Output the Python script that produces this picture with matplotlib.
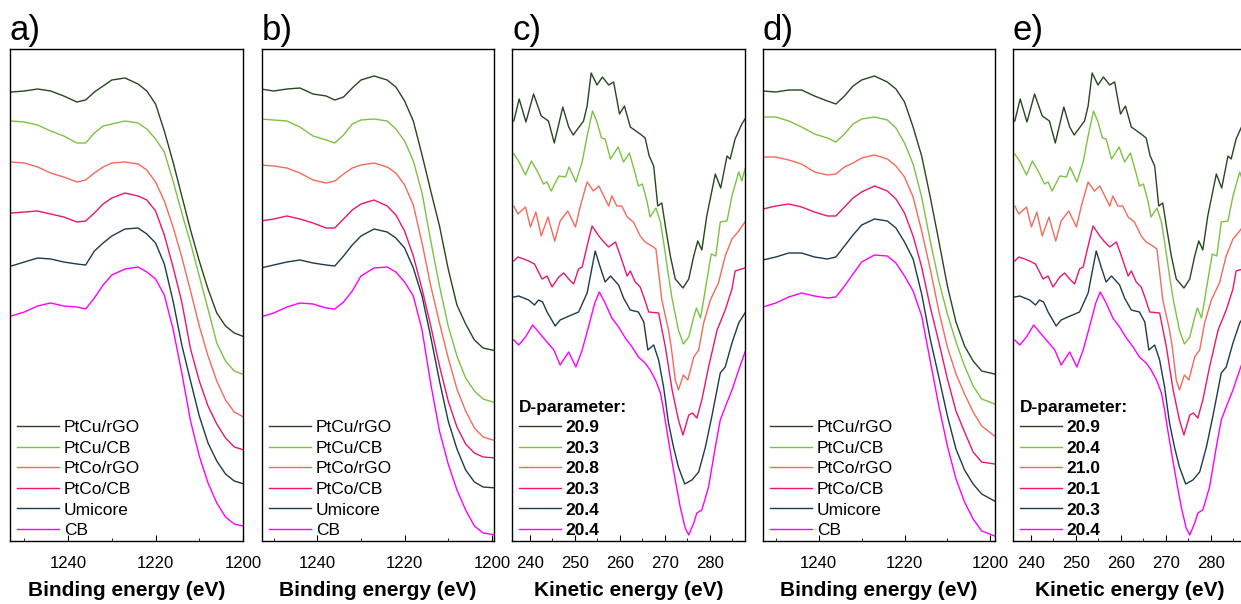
import matplotlib
matplotlib.use("Agg")
import matplotlib.pyplot as plt
from matplotlib.ticker import MultipleLocator

plt.rcParams['font.family'] = ['Liberation Sans', 'DejaVu Sans']

samples = ['PtCu/rGO', 'PtCu/CB', 'PtCo/rGO', 'PtCo/CB', 'Umicore', 'CB']
colors = ['#27471f', '#7cc242', '#f26b5b', '#ea1670', '#1d3b4c', '#ff00ff']
d_param_c = ['20.9', '20.3', '20.8', '20.3', '20.4', '20.4']
d_param_e = ['20.9', '20.4', '21.0', '20.1', '20.3', '20.4']

# binding energy grid (eV), shared by panels a, b, d
be = [1253, 1250, 1247, 1244, 1241, 1238, 1236, 1234, 1232, 1230, 1227, 1224,
      1222, 1220, 1218, 1216, 1214, 1212, 1210, 1208, 1206, 1204, 1202, 1199]

# panel a (intensity, offset, a.u.)
a_ptcu_rgo = [449, 450, 452, 450, 445, 439, 441, 449, 455, 461, 463, 457,
              450, 437, 410, 379, 345, 311, 280, 252, 228, 215, 208, 203]
a_ptcu_cb = [420, 419, 416, 410, 405, 398, 398, 408, 415, 417, 420, 418,
             412, 402, 389, 360, 328, 298, 265, 232, 198, 180, 170, 165]
a_ptco_rgo = [379, 378, 374, 368, 364, 359, 361, 368, 374, 378, 379, 377,
              371, 359, 340, 314, 284, 250, 215, 185, 160, 141, 129, 122]
a_ptco_cb = [328, 329, 330, 327, 324, 319, 320, 328, 337, 343, 348, 345,
             341, 330, 306, 274, 239, 192, 160, 135, 117, 103, 94, 90]
a_umicore = [275, 279, 283, 282, 279, 277, 276, 290, 298, 305, 312, 313,
             307, 298, 277, 240, 196, 160, 125, 98, 80, 67, 60, 56]
a_cb = [225, 229, 235, 238, 235, 234, 232, 243, 256, 266, 272, 274,
        269, 262, 246, 212, 168, 120, 85, 58, 38, 24, 17, 14]

# panel b
b_ptcu_rgo = [452, 450, 452, 453, 447, 445, 441, 444, 453, 461, 465, 461,
              454, 440, 420, 386, 350, 315, 272, 236, 217, 201, 193, 190]
b_ptcu_cb = [422, 421, 420, 414, 405, 401, 398, 406, 417, 421, 422, 420,
             412, 400, 380, 348, 300, 255, 215, 185, 163, 150, 142, 138]
b_ptco_rgo = [376, 375, 373, 368, 361, 358, 360, 367, 373, 376, 378, 374,
              368, 356, 336, 298, 255, 218, 183, 152, 130, 113, 104, 100]
b_ptco_cb = [320, 322, 325, 322, 318, 313, 313, 322, 331, 337, 341, 335,
             326, 310, 285, 252, 215, 175, 140, 114, 97, 88, 84, 83]
b_umicore = [273, 276, 279, 281, 278, 276, 275, 285, 296, 305, 312, 309,
             303, 293, 273, 245, 204, 160, 120, 92, 71, 59, 54, 53]
b_cb = [224, 228, 234, 238, 237, 233, 232, 239, 250, 265, 273, 274,
        269, 259, 245, 211, 157, 110, 77, 51, 31, 15, 8, 6]

# panel d
d_ptcu_rgo = [450, 449, 451, 451, 445, 440, 437, 445, 455, 461, 465, 459,
              452, 439, 414, 385, 344, 300, 255, 219, 195, 180, 170, 167]
d_ptcu_cb = [424, 424, 420, 414, 407, 403, 399, 407, 417, 422, 424, 421,
             413, 398, 377, 344, 300, 260, 227, 199, 175, 155, 142, 137]
d_ptco_rgo = [384, 384, 381, 377, 369, 366, 367, 374, 378, 383, 386, 382,
              375, 364, 344, 310, 272, 230, 194, 167, 147, 129, 115, 105]
d_ptco_cb = [332, 335, 337, 334, 329, 325, 325, 334, 343, 349, 355, 350,
             342, 328, 305, 274, 234, 199, 162, 130, 109, 89, 79, 77]
d_umicore = [281, 284, 288, 288, 284, 282, 284, 295, 306, 316, 322, 320,
             313, 299, 282, 247, 202, 164, 125, 92, 71, 57, 47, 40]
d_cb = [234, 238, 244, 248, 245, 243, 244, 255, 267, 279, 286, 285,
        278, 265, 250, 225, 180, 135, 95, 62, 39, 22, 10, 5]

# Auger spectra (kinetic energy), same curves in panels c and e
ke_ptcu_rgo = [236.4, 237.6, 239.1, 240.8, 242.5, 244.1, 245.4, 247.3, 248.6, 249.6,
               251.9, 252.7, 253.6, 254.9, 256.1, 257.5, 258.6, 259.9, 261.0, 262.3,
               264.5, 265.6, 266.5, 267.5, 268.4, 269.3, 270.2, 271.2, 272.3, 274.0,
               275.3, 276.4, 277.3, 278.2, 279.3, 281.2, 282.4, 283.8, 284.5, 285.6,
               287.1, 287.8]
i_ptcu_rgo = [420, 442, 419, 447, 425, 420, 398, 434, 414, 406,
              420, 435, 468, 456, 464, 456, 459, 427, 435, 414,
              407, 403, 385, 375, 335, 338, 312, 285, 262, 253,
              262, 285, 300, 291, 325, 367, 353, 385, 382, 402,
              417, 422]
ke_ptcu_cb = [236.4, 237.6, 239.0, 240.3, 241.6, 243.0, 243.8, 244.7, 246.4, 247.9,
              248.7, 250.2, 251.6, 252.7, 253.9, 254.9, 255.9, 256.7, 257.9, 259.6,
              260.8, 262.1, 263.3, 264.1, 265.0, 266.0, 266.7, 268.0, 269.0, 269.7,
              270.8, 271.6, 273.0, 274.1, 275.3, 276.4, 277.0, 277.9, 278.6, 279.1,
              280.3, 281.3, 282.3, 283.8, 284.9, 286.4, 287.1, 287.8]
i_ptcu_cb = [387, 379, 366, 380, 370, 357, 359, 350, 365, 364,
             374, 359, 379, 405, 430, 419, 403, 402, 382, 394,
             379, 388, 369, 355, 357, 340, 324, 333, 319, 299,
             265, 242, 211, 197, 204, 224, 233, 223, 241, 255,
             287, 285, 319, 320, 345, 369, 360, 372]
ke_ptco_rgo = [236.4, 237.3, 239.0, 240.1, 241.3, 242.5, 244.0, 245.5, 246.7, 248.4,
               250.1, 251.2, 252.7, 254.1, 255.3, 257.5, 258.2, 259.3, 260.4, 261.6,
               263.0, 264.5, 265.6, 267.1, 268.0, 269.3, 270.8, 271.4, 272.3, 273.0,
               274.1, 275.1, 276.4, 277.5, 278.6, 280.1, 281.9, 283.4, 284.9, 286.4,
               287.8]
i_ptco_rgo = [335, 327, 334, 314, 329, 305, 324, 300, 320, 330,
              314, 335, 359, 350, 355, 335, 345, 335, 335, 324,
              319, 305, 299, 295, 292, 241, 211, 194, 161, 151,
              166, 161, 184, 191, 218, 241, 258, 285, 302, 310,
              319]
ke_ptco_cb = [236.4, 237.3, 238.6, 239.7, 241.0, 242.7, 243.8, 244.9, 246.4, 247.5,
              248.6, 249.7, 250.8, 251.6, 252.7, 253.8, 255.3, 256.4, 257.5, 259.0,
              260.1, 261.6, 262.3, 263.4, 264.5, 265.3, 266.4, 268.6, 270.1, 271.6,
              273.0, 274.0, 275.3, 276.1, 277.1, 278.2, 279.7, 281.6, 283.4, 284.9,
              285.6, 287.8]
i_ptco_cb = [280, 284, 282, 280, 277, 262, 265, 254, 264, 268,
             262, 257, 272, 274, 295, 315, 305, 299, 294, 299,
             285, 265, 270, 259, 254, 244, 229, 228, 194, 151,
             121, 106, 126, 128, 123, 141, 174, 211, 231, 252,
             270, 273]
ke_umicore = [236.4, 237.5, 238.6, 239.7, 241.0, 241.9, 242.8, 243.8, 245.6, 246.7,
              248.2, 250.8, 252.7, 254.5, 255.6, 256.7, 257.9, 259.7, 260.8, 262.3,
              264.1, 265.3, 266.2, 267.5, 268.6, 269.7, 270.8, 271.9, 273.0, 274.4,
              276.0, 277.5, 279.0, 280.4, 282.3, 283.4, 284.9, 286.4, 287.8]
i_umicore = [244, 245, 243, 241, 236, 241, 239, 229, 215, 221,
             224, 229, 248, 290, 274, 259, 265, 256, 243, 231,
             229, 219, 191, 196, 181, 154, 118, 94, 74, 57,
             61, 69, 94, 124, 168, 174, 198, 218, 228]
ke_cb = [236.4, 237.5, 239.0, 240.6, 241.9, 243.4, 245.3, 246.7, 248.6, 250.2,
         251.6, 253.0, 254.4, 255.4, 256.7, 258.2, 259.7, 261.2, 262.7, 264.1,
         265.6, 266.7, 267.9, 269.0, 269.7, 270.4, 271.4, 272.3, 273.4, 274.5,
         275.3, 276.4, 277.1, 278.2, 279.7, 281.2, 282.3, 283.4, 284.9, 286.4,
         287.8]
i_cb = [201, 196, 204, 216, 209, 201, 191, 176, 189, 174,
        191, 214, 238, 249, 238, 223, 214, 203, 194, 184,
        178, 171, 161, 148, 131, 111, 84, 61, 34, 13,
        6, 18, 28, 31, 54, 94, 121, 134, 151, 171,
        189]

be_sets = {
    'a': [a_ptcu_rgo, a_ptcu_cb, a_ptco_rgo, a_ptco_cb, a_umicore, a_cb],
    'b': [b_ptcu_rgo, b_ptcu_cb, b_ptco_rgo, b_ptco_cb, b_umicore, b_cb],
    'd': [d_ptcu_rgo, d_ptcu_cb, d_ptco_rgo, d_ptco_cb, d_umicore, d_cb],
}
ke_set = [(ke_ptcu_rgo, i_ptcu_rgo), (ke_ptcu_cb, i_ptcu_cb), (ke_ptco_rgo, i_ptco_rgo),
          (ke_ptco_cb, i_ptco_cb), (ke_umicore, i_umicore), (ke_cb, i_cb)]

W, H = 1241, 604
fig = plt.figure(figsize=(W / 100, H / 100), dpi=100)

lefts = [10, 262, 512, 763, 1013]
widths = [233, 232, 233, 232, 233]
xlims = [(1253.3, 1200), (1252.7, 1199.5), (236, 287.8), (1253, 1198.9), (236, 287.8)]
letters = ['a', 'b', 'c', 'd', 'e']

leg_kw = dict(loc='lower left', frameon=False, handlelength=2.4, handletextpad=0.3,
              labelspacing=0.31, borderaxespad=0.0, borderpad=0.0,
              bbox_to_anchor=(0.03, 0.006))


def style_axis(ax, letter, kinetic):
    ax.set_ylim(0, 492)
    ax.set_yticks([])
    if kinetic:
        ax.xaxis.set_major_locator(MultipleLocator(10))
        ax.xaxis.set_minor_locator(MultipleLocator(5))
        ax.set_xlabel('Kinetic energy (eV)', fontsize=15, fontweight='bold', labelpad=7)
    else:
        ax.xaxis.set_major_locator(MultipleLocator(20))
        ax.xaxis.set_minor_locator(MultipleLocator(10))
        ax.set_xlabel('Binding energy (eV)', fontsize=15, fontweight='bold', labelpad=7)
    ax.tick_params(axis='x', which='major', direction='in', length=4, labelsize=12, pad=11)
    ax.tick_params(axis='x', which='minor', direction='in', length=2.5)
    for sp in ax.spines.values():
        sp.set_linewidth(1.0)
    ax.text(0.0, 1.018, letter + ')', transform=ax.transAxes, fontsize=25,
            ha='left', va='baseline')


for i, letter in enumerate(letters):
    ax = fig.add_axes([lefts[i] / W, 1 - 541 / H, widths[i] / W, 492 / H])
    ax.set_xlim(*xlims[i])
    kinetic = letter in ('c', 'e')
    if kinetic:
        labels = d_param_c if letter == 'c' else d_param_e
        for (x, y), col, lab in zip(ke_set, colors, labels):
            ax.plot(x, y, color=col, lw=1.0, label=lab)
        leg = ax.legend(title='D-parameter:', prop={'size': 12.5, 'weight': 'bold'},
                        alignment='left', **leg_kw)
        leg.get_title().set_fontweight('bold')
        leg.get_title().set_fontsize(12.5)
    else:
        for y, col, lab in zip(be_sets[letter], colors, samples):
            ax.plot(be, y, color=col, lw=1.0, label=lab)
        ax.legend(fontsize=12.5, **leg_kw)
    style_axis(ax, letter, kinetic)

fig.savefig('out.png', dpi=100)
